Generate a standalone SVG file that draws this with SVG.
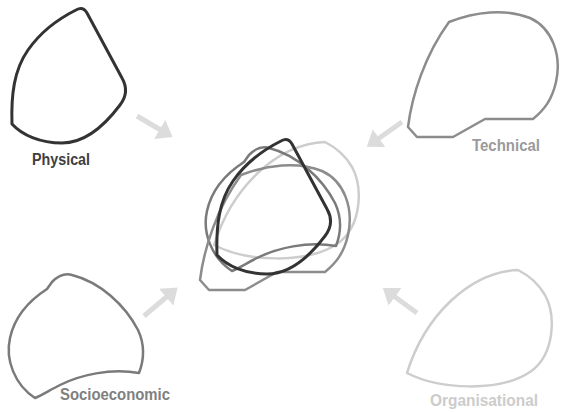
<svg xmlns="http://www.w3.org/2000/svg" xmlns:xlink="http://www.w3.org/1999/xlink" width="561" height="412" viewBox="0 0 561 412">
<style>
.shape{fill:none;stroke-linejoin:round;stroke-linecap:round}
.phys{stroke:#333;stroke-width:3}
.tech{stroke:#8c8c8c;stroke-width:2.5}
.socio{stroke:#7a7a7a;stroke-width:2.5}
.org{stroke:#cdcdcd;stroke-width:2.5}
.lbl{font-family:"Liberation Sans",Arial,sans-serif;font-weight:bold;font-size:16px}
.arr{stroke:#dcdcdc;stroke-width:5;fill:none;marker-end:url(#ah)}
</style>
<defs>
<marker id="ah" markerUnits="userSpaceOnUse" viewBox="0 0 15 22" markerWidth="15" markerHeight="22" refX="5" refY="11" orient="auto">
<path d="M0,0 L15,11 L0,22 Z" fill="#dcdcdc"/>
</marker>
<path id="pPhys" d="M12,124 C11,95 14,70 28,50 C42,30 58,19 76,10 Q83,6 87,13 L122,78 Q130,92 120,105 C105,125 85,143 62,143 C40,143 22,135 12,124 Z"/>
<path id="pTech" d="M449,22 C475,12 505,8 530,18 C552,28 562,55 556,82 C552,100 544,110 533,119 L485,119 L453,137 L417,137 L408,127 C412,95 425,55 449,22 Z"/>
<path id="pSocio" d="M35,398 C15,385 5,360 10,338 C15,315 30,300 47,289 L52,282 C58,276 65,273 72,275 C100,282 125,305 138,330 C145,345 144,360 139,373 C110,368 80,375 60,385 C50,390 42,395 35,398 Z"/>
<path id="pOrg" d="M518,270 C470,272 425,315 407,373 C440,390 500,392 530,372 C555,355 556,315 545,295 C538,283 528,275 518,270 Z"/>
</defs>
<g id="connectors">
<path class="arr" d="M137,116 L164,132"/>
<path class="arr" d="M402,122 L375,141"/>
<path class="arr" d="M144,316 L170,294"/>
<path class="arr" d="M417,313 L391,294"/>
</g>
<g id="physical">
<use xlink:href="#pPhys" class="shape phys"/>
<text class="lbl" x="32" y="165" fill="#404040" textLength="58" lengthAdjust="spacingAndGlyphs">Physical</text>
</g>
<g id="technical">
<use xlink:href="#pTech" class="shape tech"/>
<text class="lbl" x="472" y="151" fill="#9a9a9a" textLength="68" lengthAdjust="spacingAndGlyphs">Technical</text>
</g>
<g id="socioeconomic">
<use xlink:href="#pSocio" class="shape socio"/>
<text class="lbl" x="60" y="400" fill="#808080" textLength="110" lengthAdjust="spacingAndGlyphs">Socioeconomic</text>
</g>
<g id="organisational">
<use xlink:href="#pOrg" class="shape org"/>
<text class="lbl" x="430" y="406" fill="#cccccc" textLength="108" lengthAdjust="spacingAndGlyphs">Organisational</text>
</g>
<g id="combined">
<use xlink:href="#pOrg" class="shape org" transform="translate(-193,-128)"/>
<use xlink:href="#pSocio" class="shape socio" transform="translate(197,-127)"/>
<use xlink:href="#pTech" class="shape tech" transform="translate(-208,153)"/>
<use xlink:href="#pPhys" class="shape phys" transform="translate(205,131)"/>
</g>
</svg>
